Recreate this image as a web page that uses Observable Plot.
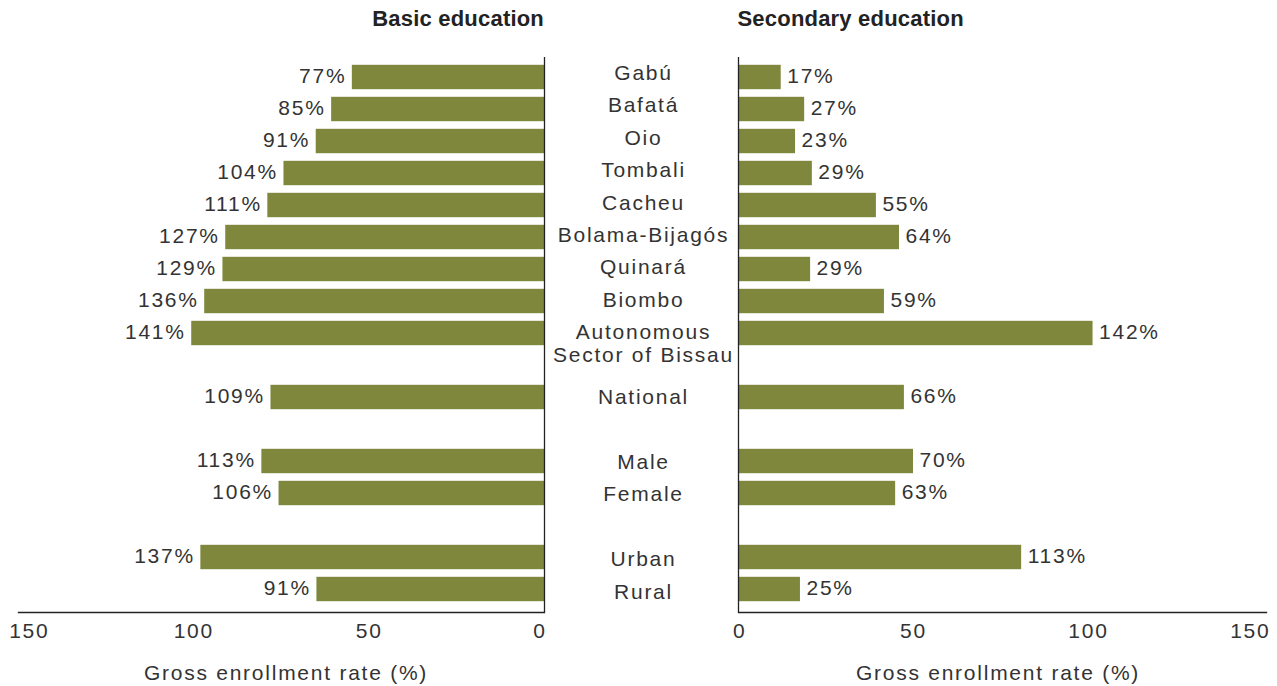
<!DOCTYPE html>
<html>
<head>
<meta charset="utf-8">
<script src="https://cdn.jsdelivr.net/npm/d3@7"></script>
<script src="https://cdn.jsdelivr.net/npm/@observablehq/plot@0.6"></script>
<style>
  html, body { margin: 0; padding: 0; background: #fff; }
  #chart { position: relative; width: 1277px; height: 686px; overflow: hidden; font-family: "Liberation Sans", Arial, sans-serif; }
  #chart svg { position: absolute; top: 0; }
  .title { position: absolute; top: 8px; font-size: 22px; line-height: 22px; font-weight: bold; color: #222; white-space: nowrap; letter-spacing: 0.2px; }
</style>
</head>
<body>
<div id="chart">
  <div class="title" style="right: 733px;">Basic education</div>
  <div class="title" style="left: 737.5px;">Secondary education</div>
</div>
<script>
// ---- Data ----
const regions = ["Gabú", "Bafatá", "Oio", "Tombali", "Cacheu", "Bolama-Bijagós", "Quinará", "Biombo",
  "Autonomous\nSector of Bissau", "National", "Male", "Female", "Urban", "Rural"];
// drawn bar lengths (on the 0–150 axis)
const basicBar = [54.8, 60.7, 65.1, 74.3, 78.9, 90.9, 91.7, 96.9, 100.6, 78.0, 80.6, 75.7, 98.0, 64.9];
const basicLabel = ["77%", "85%", "91%", "104%", "111%", "127%", "129%", "136%", "141%", "109%", "113%", "106%", "137%", "91%"];
const secondaryBar = [12.2, 18.9, 16.3, 21.1, 39.4, 46.0, 20.6, 41.7, 101.3, 47.4, 50.0, 44.9, 80.9, 17.7];
const secondaryLabel = ["17%", "27%", "23%", "29%", "55%", "64%", "29%", "59%", "142%", "66%", "70%", "63%", "113%", "25%"];
// row order, with empty spacer rows between groups
const rowOrder = ["Gabú", "Bafatá", "Oio", "Tombali", "Cacheu", "Bolama-Bijagós", "Quinará", "Biombo",
  "Autonomous\nSector of Bissau", "gap-1", "National", "gap-2", "Male", "Female", "gap-3", "Urban", "Rural"];
const tickValues = [0, 50, 100, 150];
const axisTitle = "Gross enrollment rate (%)";

const data = regions.map((name, i) => ({
  name,
  basic: basicBar[i], basicText: basicLabel[i],
  secondary: secondaryBar[i], secondaryText: secondaryLabel[i]
}));

// ---- Styles ----
const barColor = "#7f873c";
const textColor = "#333333";
const lineColor = "#222222";
const svgStyle = "font-family: 'Liberation Sans', Arial, sans-serif; font-size: 21px; letter-spacing: 1.75px; color: #333; background: transparent; overflow: visible;";

const yScale = {domain: rowOrder, range: [61, 612], paddingInner: 0, paddingOuter: 0.109375, align: 0, round: false, axis: null};

const chart = document.getElementById("chart");

// ---- Left panel: Basic education ----
const left = Plot.plot({
  width: 560, height: 686,
  marginTop: 61, marginBottom: 74, marginLeft: 18, marginRight: 16,
  style: svgStyle,
  x: {domain: [0, 150], reverse: true},
  y: yScale,
  marks: [
    Plot.barX(data, {y: "name", x: "basic", fill: barColor, insetTop: 3.8, insetBottom: 3.8}),
    Plot.text(data, {y: "name", x: "basic", text: "basicText", textAnchor: "end", dx: -6, dy: -1, fill: textColor}),
    Plot.ruleX([0], {stroke: lineColor, strokeWidth: 1.3, insetTop: -4}),
    Plot.frame({anchor: "bottom", stroke: lineColor, strokeWidth: 1.3}),
    Plot.axisX({ticks: tickValues.filter(t => t > 0 && t < 150), tickSize: 0, tickPadding: 11, label: null, fill: textColor}),
    Plot.axisX({ticks: [150], tickSize: 0, tickPadding: 11, label: null, fill: textColor, dx: 10.8}),
    Plot.axisX({ticks: [0], tickSize: 0, tickPadding: 11, label: null, fill: textColor, dx: -4.5}),
    Plot.text([axisTitle], {frameAnchor: "bottom", lineAnchor: "top", dy: 53, dx: 4.5, fill: textColor})
  ]
});
left.style.left = "0px";
chart.appendChild(left);

// ---- Center labels ----
const center = Plot.plot({
  width: 188, height: 686,
  marginTop: 61, marginBottom: 74, marginLeft: 0, marginRight: 0,
  style: svgStyle,
  y: yScale,
  marks: [
    Plot.text(data, {y: "name", text: "name", lineAnchor: "top", lineHeight: 1.07, dy: 2.5, fill: textColor})
  ]
});
center.style.left = "549px";
chart.appendChild(center);

// ---- Right panel: Secondary education ----
const right = Plot.plot({
  width: 555, height: 686,
  marginTop: 61, marginBottom: 74, marginLeft: 16, marginRight: 11,
  style: svgStyle,
  x: {domain: [0, 150], range: [16, 541]},
  y: yScale,
  marks: [
    Plot.barX(data, {y: "name", x: "secondary", fill: barColor, insetTop: 3.8, insetBottom: 3.8}),
    Plot.text(data, {y: "name", x: "secondary", text: "secondaryText", textAnchor: "start", dx: 6, dy: -1, fill: textColor}),
    Plot.ruleX([0], {stroke: lineColor, strokeWidth: 1.3, insetTop: -4}),
    Plot.frame({anchor: "bottom", stroke: lineColor, strokeWidth: 1.3}),
    Plot.axisX({ticks: tickValues.filter(t => t > 0 && t < 150), tickSize: 0, tickPadding: 11, label: null, fill: textColor}),
    Plot.axisX({ticks: [0], tickSize: 0, tickPadding: 11, label: null, fill: textColor, dx: 1.3}),
    Plot.axisX({ticks: [150], tickSize: 0, tickPadding: 11, label: null, fill: textColor, dx: -13.2}),
    Plot.text([axisTitle], {frameAnchor: "bottom", lineAnchor: "top", dy: 53, dx: -4.5, fill: textColor})
  ]
});
right.style.left = "722px";
chart.appendChild(right);
</script>
</body>
</html>
